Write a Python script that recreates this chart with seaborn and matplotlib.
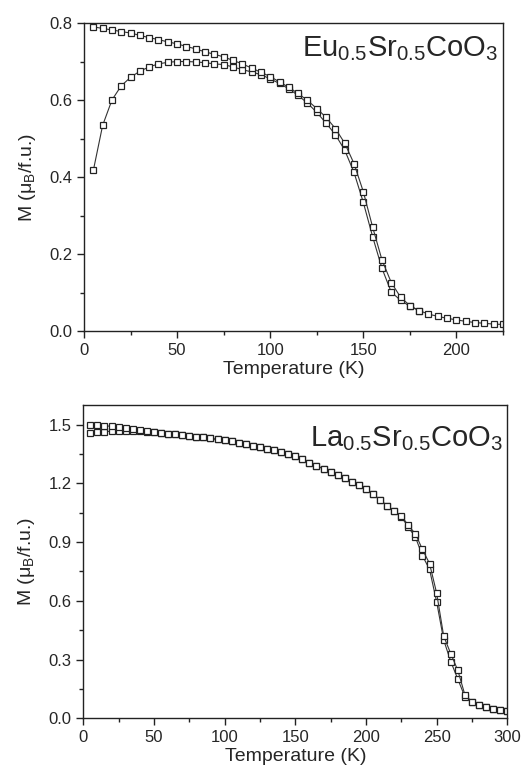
import seaborn as sns
import matplotlib.pyplot as plt

# Eu0.5Sr0.5CoO3 - ZFC and FC magnetization
t_eu = [5, 10, 15, 20, 25, 30, 35, 40, 45, 50, 55, 60, 65, 70, 75, 80, 85, 90, 95, 100,
        105, 110, 115, 120, 125, 130, 135, 140, 145, 150, 155, 160, 165, 170, 175, 180,
        185, 190, 195, 200, 205, 210, 215, 220, 225]
m_eu_fc = [0.790, 0.786, 0.782, 0.778, 0.774, 0.768, 0.762, 0.757, 0.751, 0.746,
           0.739, 0.733, 0.725, 0.719, 0.712, 0.703, 0.694, 0.683, 0.672, 0.661,
           0.647, 0.633, 0.617, 0.599, 0.578, 0.555, 0.526, 0.488, 0.435, 0.362,
           0.270, 0.185, 0.126, 0.088, 0.066, 0.053, 0.044, 0.038, 0.033, 0.029,
           0.025, 0.022, 0.020, 0.018, 0.017]
t_eu_zfc = t_eu[:36]
m_eu_zfc = [0.417, 0.534, 0.600, 0.637, 0.659, 0.675, 0.686, 0.694, 0.698, 0.700,
            0.700, 0.699, 0.697, 0.694, 0.692, 0.686, 0.679, 0.673, 0.666, 0.655,
            0.643, 0.629, 0.612, 0.592, 0.568, 0.540, 0.510, 0.470, 0.412, 0.334,
            0.245, 0.163, 0.101, 0.080, 0.064, 0.053]

# La0.5Sr0.5CoO3
t_la = [5, 10, 15, 20, 25, 30, 35, 40, 45, 50, 55, 60, 65, 70, 75, 80, 85, 90, 95, 100,
        105, 110, 115, 120, 125, 130, 135, 140, 145, 150, 155, 160, 165, 170, 175, 180,
        185, 190, 195, 200, 205, 210, 215, 220, 225, 230, 235, 240, 245, 250, 255, 260,
        265, 270, 275, 280, 285, 290, 295, 300]
m_la_fc = [1.497, 1.496, 1.494, 1.491, 1.487, 1.482, 1.475, 1.470, 1.465, 1.461,
           1.457, 1.454, 1.450, 1.446, 1.442, 1.438, 1.434, 1.429, 1.424, 1.419,
           1.414, 1.407, 1.400, 1.393, 1.386, 1.377, 1.368, 1.358, 1.348, 1.337,
           1.322, 1.305, 1.290, 1.274, 1.259, 1.244, 1.227, 1.208, 1.189, 1.169,
           1.145, 1.115, 1.085, 1.058, 1.035, 0.985, 0.942, 0.862, 0.790, 0.640,
           0.420, 0.330, 0.245, 0.120, 0.085, 0.070, 0.058, 0.048, 0.042, 0.036]
m_la_zfc = [1.457, 1.461, 1.464, 1.466, 1.467, 1.467, 1.467, 1.466, 1.464, 1.461,
            1.457, 1.454, 1.450, 1.446, 1.442, 1.438, 1.434, 1.429, 1.424, 1.419,
            1.414, 1.407, 1.400, 1.393, 1.386, 1.377, 1.368, 1.358, 1.348, 1.337,
            1.322, 1.305, 1.290, 1.274, 1.259, 1.244, 1.227, 1.208, 1.189, 1.169,
            1.145, 1.115, 1.085, 1.058, 1.030, 0.975, 0.925, 0.830, 0.760, 0.595,
            0.400, 0.290, 0.200, 0.110, 0.082, 0.068, 0.056, 0.047, 0.041, 0.035]

sns.set_style("ticks")
plt.rcParams['font.family'] = ['Liberation Sans', 'DejaVu Sans']
plt.rcParams['mathtext.default'] = 'regular'

fig = plt.figure(figsize=(5.27, 7.68), dpi=100)
ax1 = fig.add_axes([0.1594, 0.569, 0.795, 0.401])
ax2 = fig.add_axes([0.158, 0.0647, 0.8046, 0.408])

style = dict(color='#333333', marker='s', markersize=5, markerfacecolor='white',
             markeredgecolor='#222222', markeredgewidth=0.9, linewidth=0.8,
             estimator=None, sort=False, legend=False)

sns.lineplot(x=t_eu_zfc, y=m_eu_zfc, ax=ax1, **style)
sns.lineplot(x=t_eu, y=m_eu_fc, ax=ax1, **style)
sns.lineplot(x=t_la, y=m_la_zfc, ax=ax2, **style)
sns.lineplot(x=t_la, y=m_la_fc, ax=ax2, **style)

ax1.set_xlim(0, 225)
ax1.set_ylim(0, 0.8)
ax1.set_xticks([0, 50, 100, 150, 200])
ax1.set_xticks([25, 75, 125, 175, 225], minor=True)
ax1.set_yticks([0.0, 0.2, 0.4, 0.6, 0.8])
ax1.set_yticks([0.1, 0.3, 0.5, 0.7], minor=True)
ax1.set_yticklabels(['0.0', '0.2', '0.4', '0.6', '0.8'])

ax2.set_xlim(0, 300)
ax2.set_ylim(0, 1.6)
ax2.set_xticks([0, 50, 100, 150, 200, 250, 300])
ax2.set_xticks([25, 75, 125, 175, 225, 275], minor=True)
ax2.set_yticks([0.0, 0.3, 0.6, 0.9, 1.2, 1.5])
ax2.set_yticks([0.15, 0.45, 0.75, 1.05, 1.35], minor=True)
ax2.set_yticklabels(['0.0', '0.3', '0.6', '0.9', '1.2', '1.5'])

for ax in (ax1, ax2):
    for s in ax.spines.values():
        s.set_linewidth(1.0)
        s.set_color('#222222')
    ax.tick_params(which='major', direction='out', length=5, width=1, labelsize=12, color='#222222')
    ax.tick_params(which='minor', direction='out', length=3, width=1, color='#222222')
    ax.set_xlabel('Temperature (K)', fontsize=14, labelpad=2)
    ax.set_ylabel('M (μ$_B$/f.u.)', fontsize=14, labelpad=8)

ax1.text(0.988, 0.965, 'Eu$_{0.5}$Sr$_{0.5}$CoO$_3$', transform=ax1.transAxes,
         ha='right', va='top', fontsize=21)
ax2.text(0.99, 0.94, 'La$_{0.5}$Sr$_{0.5}$CoO$_3$', transform=ax2.transAxes,
         ha='right', va='top', fontsize=21)

fig.savefig('out.png', dpi=100)
